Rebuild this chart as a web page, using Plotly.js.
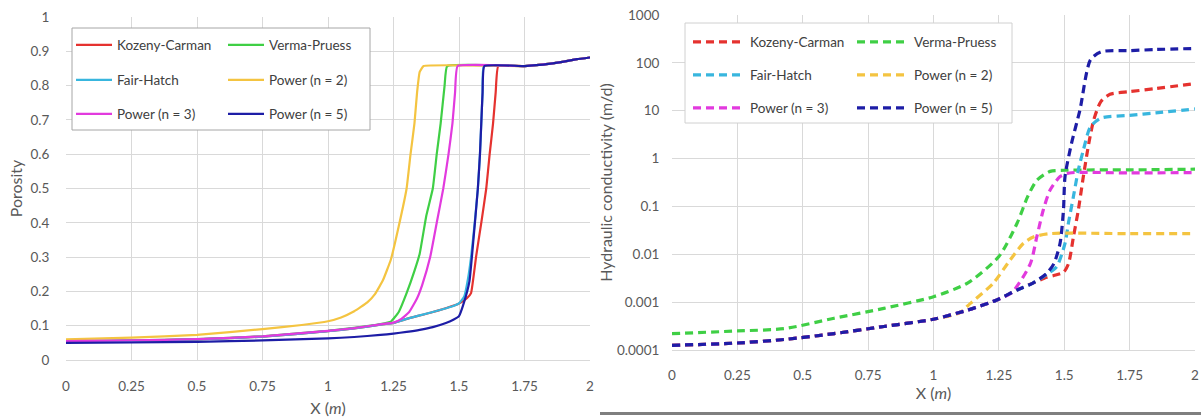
<!DOCTYPE html>
<html><head><meta charset="utf-8">
<script src="https://cdn.plot.ly/plotly-3.0.1.min.js"></script>
<style>html,body{margin:0;padding:0;background:#fff}#chart{width:1201px;height:417px}</style>
</head><body><div id="chart"></div>
<script>
// ---- series names & colours ----
const seriesNames = ['Kozeny-Carman', 'Verma-Pruess', 'Fair-Hatch', 'Power (n = 2)', 'Power (n = 3)', 'Power (n = 5)'];
const seriesColors = ['#e5322f', '#3fcf45', '#38b6de', '#f4c441', '#e23ade', '#1d1da6'];

// ---- Porosity (left) ----
const porKCx = [0,0.25,0.5,0.75,1.0,1.1,1.2,1.25,1.3,1.4,1.5,1.53,1.546,1.555,1.565,1.585,1.604,1.617,1.63,1.64,1.65,1.75,1.85,1.9,1.95,2.0];
const porKCy = [0.054,0.056,0.06,0.068,0.084,0.092,0.103,0.108,0.12,0.14,0.165,0.18,0.195,0.24,0.30,0.40,0.50,0.60,0.69,0.78,0.857,0.857,0.864,0.87,0.877,0.882];
const porVPx = [0,0.25,0.5,0.75,1.0,1.1,1.2,1.24,1.27,1.30,1.33,1.35,1.375,1.40,1.415,1.43,1.445,1.455,1.75,1.85,1.9,1.95,2.0];
const porVPy = [0.055,0.057,0.061,0.069,0.085,0.094,0.105,0.112,0.14,0.195,0.26,0.31,0.42,0.50,0.60,0.69,0.80,0.857,0.857,0.864,0.87,0.877,0.882];
const porFHx = [0,0.25,0.5,0.75,1.0,1.1,1.2,1.25,1.3,1.4,1.47,1.5,1.52,1.535,1.546,1.56,1.572,1.58,1.585,1.59,1.595,1.75,1.85,1.9,1.95,2.0];
const porFHy = [0.054,0.056,0.06,0.068,0.084,0.092,0.103,0.108,0.12,0.14,0.155,0.165,0.185,0.24,0.30,0.40,0.50,0.60,0.69,0.78,0.857,0.857,0.864,0.87,0.877,0.882];
const porP2x = [0,0.25,0.5,0.75,0.9,1.0,1.05,1.1,1.15,1.18,1.21,1.24,1.27,1.30,1.315,1.33,1.34,1.35,1.365,1.75,1.85,1.9,1.95,2.0];
const porP2y = [0.06,0.065,0.073,0.09,0.102,0.113,0.124,0.142,0.168,0.193,0.233,0.293,0.39,0.50,0.60,0.69,0.78,0.84,0.857,0.857,0.864,0.87,0.877,0.882];
const porP3x = [0,0.25,0.5,0.75,1.0,1.1,1.2,1.25,1.28,1.31,1.34,1.36,1.39,1.415,1.44,1.46,1.475,1.485,1.495,1.75,1.85,1.9,1.95,2.0];
const porP3y = [0.055,0.057,0.061,0.069,0.085,0.093,0.104,0.109,0.12,0.14,0.18,0.22,0.30,0.40,0.50,0.60,0.69,0.78,0.857,0.857,0.864,0.87,0.877,0.882];
const porP5x = [0,0.25,0.5,0.75,1.0,1.1,1.2,1.25,1.3,1.35,1.4,1.45,1.48,1.5,1.52,1.54,1.555,1.572,1.58,1.585,1.59,1.597,1.75,1.85,1.9,1.95,2.0];
const porP5y = [0.05,0.051,0.053,0.057,0.063,0.067,0.073,0.077,0.082,0.088,0.096,0.108,0.118,0.128,0.17,0.23,0.35,0.50,0.60,0.69,0.78,0.857,0.857,0.864,0.87,0.877,0.882];

// ---- Hydraulic conductivity (right, m/d) ----
const kKCx = [0,0.25,0.43,0.62,0.81,1.0,1.13,1.24,1.32,1.38,1.433,1.46,1.497,1.516,1.535,1.554,1.573,1.594,1.613,1.64,1.675,1.75,1.85,2.0];
const kKCy = [0.000125,0.00014,0.000166,0.00022,0.00031,0.00044,0.00068,0.0011,0.0018,0.0025,0.0033,0.0036,0.0042,0.0063,0.023,0.085,0.42,2.1,6.5,15.5,22,25,29,37];
const kVPx = [0,0.25,0.43,0.62,0.81,1.0,1.13,1.25,1.32,1.36,1.395,1.446,1.5,1.75,2.0];
const kVPy = [0.00022,0.00025,0.00028,0.00046,0.00074,0.0013,0.0025,0.009,0.045,0.16,0.35,0.54,0.57,0.58,0.6];
const kFHx = [0,0.25,0.43,0.62,0.81,1.0,1.13,1.24,1.32,1.38,1.433,1.471,1.503,1.516,1.535,1.554,1.573,1.6,1.64,1.75,1.85,2.0];
const kFHy = [0.000125,0.00014,0.000166,0.00022,0.00031,0.00044,0.00068,0.0011,0.0018,0.0025,0.0038,0.0055,0.017,0.045,0.16,0.58,1.5,4.6,7.0,8.0,9.0,10.9];
const kP2x = [0,0.25,0.43,0.62,0.81,1.0,1.1,1.14,1.229,1.293,1.344,1.382,1.446,1.75,2.0];
const kP2y = [0.000125,0.00014,0.000166,0.00022,0.00031,0.00044,0.0006,0.00093,0.0025,0.0076,0.017,0.023,0.027,0.027,0.027];
const kP3x = [0,0.25,0.43,0.62,0.81,1.0,1.13,1.24,1.3,1.37,1.395,1.42,1.446,1.484,1.52,1.75,2.0];
const kP3y = [0.000125,0.00014,0.000166,0.00022,0.00031,0.00044,0.00068,0.0011,0.0016,0.0063,0.023,0.085,0.22,0.42,0.5,0.5,0.51];
const kP5x = [0,0.25,0.43,0.62,0.81,1.0,1.13,1.24,1.32,1.38,1.433,1.46,1.484,1.497,1.503,1.528,1.56,1.6,1.64,1.75,1.85,2.0];
const kP5y = [0.000125,0.00014,0.000166,0.00022,0.00031,0.00044,0.00068,0.0011,0.0018,0.0025,0.004,0.0063,0.017,0.085,0.42,2.1,10.4,115,170,180,190,200];

// ---- tick labels ----
const xTickVals = [0,0.25,0.5,0.75,1,1.25,1.5,1.75,2];
const xTickText = ['0','0.25','0.5','0.75','1','1.25','1.5','1.75','2'];
const kTickVals = [0.0001,0.001,0.01,0.1,1,10,100,1000];
const kTickText = ['0.0001','0.001','0.01','0.1','1','10','100','1000'];

const porX = [porKCx, porVPx, porFHx, porP2x, porP3x, porP5x];
const porY = [porKCy, porVPy, porFHy, porP2y, porP3y, porP5y];
const kX = [kKCx, kVPx, kFHx, kP2x, kP3x, kP5x];
const kY = [kKCy, kVPy, kFHy, kP2y, kP3y, kP5y];
const rowOf = [0, 0, 1, 1, 2, 2];

const FONT = 'Lato, "Open Sans", "Liberation Sans", sans-serif';
const traces = [];
for (let i = 0; i < 6; i++) {
  traces.push({
    type: 'scatter', mode: 'lines', x: porX[i], y: porY[i], name: seriesNames[i],
    xaxis: 'x', yaxis: 'y', legend: rowOf[i] === 0 ? 'legend' : 'legend' + (rowOf[i] + 1),
    line: {color: seriesColors[i], width: 2.2, shape: 'spline', smoothing: 0.35}, hoverinfo: 'x+y+name'
  });
}
for (let i = 0; i < 6; i++) {
  traces.push({
    type: 'scatter', mode: 'lines', x: kX[i], y: kY[i], name: seriesNames[i],
    xaxis: 'x2', yaxis: 'y2', legend: 'legend' + (rowOf[i] + 4),
    line: {color: seriesColors[i], width: 3.2, dash: '8px,5px', shape: 'spline', smoothing: 0.7}, hoverinfo: 'x+y+name'
  });
}

const W = 1201, H = 417;
const px = v => v / W, py = v => 1 - v / H;
const gridC = '#d9d9d9';
const tickF = {family: FONT, size: 13.5, color: '#595959'};
const titleF = {family: FONT, size: 16, color: '#595959'};

function legendRow(xpx, ypx, ew, iw) {
  return {
    x: px(xpx), y: py(ypx), xanchor: 'left', yanchor: 'middle', orientation: 'h',
    entrywidth: ew, entrywidthmode: 'pixels', itemwidth: iw,
    bgcolor: 'rgba(0,0,0,0)', borderwidth: 0,
    font: {family: FONT, size: 13.5, color: '#404040'}, traceorder: 'normal'
  };
}

const layout = {
  width: W, height: H,
  margin: {l: 0, r: 0, t: 0, b: 0},
  paper_bgcolor: '#ffffff', plot_bgcolor: '#ffffff',
  font: {family: FONT},
  showlegend: true,
  xaxis: {
    domain: [px(66), px(590)], range: [0, 2], anchor: 'y',
    tickvals: xTickVals, ticktext: xTickText, tickfont: tickF,
    ticks: 'outside', ticklen: 14, tickcolor: 'rgba(0,0,0,0)',
    showgrid: true, gridcolor: gridC, zeroline: false,
    showline: true, linecolor: gridC, linewidth: 1,
    title: {text: 'X (<i>m</i>)', font: titleF, standoff: 11}
  },
  yaxis: {
    domain: [1 - 360 / H, 1 - 17 / H], range: [0, 1], anchor: 'x',
    dtick: 0.1, tick0: 0, tickfont: tickF,
    ticks: 'outside', ticklen: 13, tickcolor: 'rgba(0,0,0,0)',
    showgrid: true, gridcolor: gridC, zeroline: false, showline: false,
    title: {text: 'Porosity', font: titleF, standoff: 3}
  },
  xaxis2: {
    domain: [px(672), px(1195)], range: [0, 2], anchor: 'y2',
    tickvals: xTickVals, ticktext: xTickText, tickfont: tickF,
    ticks: 'outside', ticklen: 13, tickcolor: 'rgba(0,0,0,0)',
    showgrid: true, gridcolor: gridC, zeroline: false,
    showline: true, linecolor: gridC, linewidth: 1,
    title: {text: 'X (<i>m</i>)', font: titleF, standoff: 1}
  },
  yaxis2: {
    domain: [1 - 350 / H, 1 - 15 / H], type: 'log', range: [-4, 3], anchor: 'x2',
    tickvals: kTickVals, ticktext: kTickText, tickfont: tickF,
    ticks: 'outside', ticklen: 9, tickcolor: 'rgba(0,0,0,0)',
    showgrid: true, gridcolor: gridC, zeroline: false, showline: false,
    title: {text: 'Hydraulic conductivity (m/d)', font: titleF, standoff: 0}
  },
  legend: legendRow(71, 45, 101, 36),
  legend2: legendRow(71, 80, 101, 36),
  legend3: legendRow(71, 114, 101, 36),
  legend4: legendRow(688, 42, 97, 52),
  legend5: legendRow(688, 75, 97, 52),
  legend6: legendRow(688, 108, 97, 52),
  shapes: [
    {type: 'rect', xref: 'paper', yref: 'paper', layer: 'above',
     x0: px(72), x1: px(370), y0: py(130), y1: py(28),
     fillcolor: '#ffffff', line: {color: '#a6a6a6', width: 1}},
    {type: 'rect', xref: 'paper', yref: 'paper', layer: 'above',
     x0: px(685), x1: px(1012), y0: py(123), y1: py(23),
     fillcolor: '#ffffff', line: {color: '#d0d0d0', width: 1}},
    {type: 'line', xref: 'paper', yref: 'paper', layer: 'above',
     x0: px(600), x1: 1, y0: py(413.5), y1: py(413.5),
     line: {color: '#7f7f7f', width: 3}}
  ]
};

Plotly.newPlot('chart', traces, layout, {displayModeBar: false, staticPlot: true});
</script>
</body></html>
